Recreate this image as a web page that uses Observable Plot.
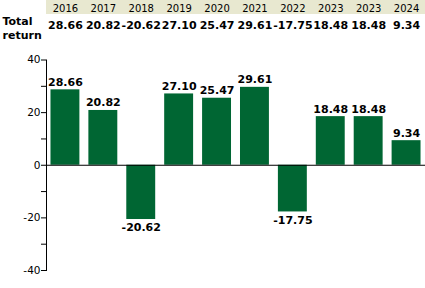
<!DOCTYPE html>
<html>
<head>
<meta charset="utf-8">
<script src="https://cdn.jsdelivr.net/npm/d3@7"></script>
<script src="https://cdn.jsdelivr.net/npm/@observablehq/plot@0.6"></script>
<style>
  html, body { margin: 0; padding: 0; background: #fff; }
  svg { display: block; }
</style>
</head>
<body>
<div id="chart"></div>
<script>
const years = ["2016", "2017", "2018", "2019", "2020", "2021", "2022", "2023", "2023", "2024"];
const totalReturn = [28.66, 20.82, -20.62, 27.10, 25.47, 29.61, -17.75, 18.48, 18.48, 9.34];
const majorTicks = [-40, -20, 0, 20, 40];
const minorTicks = [-30, -10, 10, 30];
const rowLabel = "Total\nreturn";

const data = years.map((y, i) => ({key: i, year: y, value: totalReturn[i]}));
const keys = data.map(d => d.key);
const fmt = v => v.toFixed(2);

const headerBg = (index, scales, values, dims) => {
  const r = document.createElementNS("http://www.w3.org/2000/svg", "rect");
  r.setAttribute("x", dims.marginLeft);
  r.setAttribute("y", 0);
  r.setAttribute("width", dims.width - dims.marginLeft - dims.marginRight);
  r.setAttribute("height", 14);
  r.setAttribute("fill", "#e8e8d0");
  return r;
};

const plot = Plot.plot({
  width: 425,
  height: 288,
  marginLeft: 46,
  marginRight: 0,
  marginTop: 59.5,
  marginBottom: 18,
  style: {fontFamily: "'DejaVu Sans', Verdana, sans-serif", background: "#fff"},
  x: {type: "band", domain: keys, paddingInner: 0.237, paddingOuter: 0.118, round: false, axis: null},
  y: {domain: [-40, 40], axis: null},
  marks: [
    headerBg,
    Plot.text(data, {x: "key", text: "year", frameAnchor: "top", lineAnchor: "bottom", dy: -48.5, fontSize: 10, fill: "#000"}),
    Plot.text(data, {x: "key", text: d => fmt(d.value), frameAnchor: "top", lineAnchor: "bottom", dy: -31, fontSize: 11, fontWeight: "bold", fill: "#000"}),
    Plot.text([rowLabel], {text: d => d, frameAnchor: "top-left", textAnchor: "start", lineAnchor: "top", dx: -44, dy: -44, fontSize: 11, fontWeight: "bold", lineHeight: 1.2, fill: "#000"}),
    Plot.barY(data, {x: "key", y: "value", fill: "#006633"}),
    Plot.text(data.filter(d => d.value >= 0), {x: "key", y: "value", text: d => fmt(d.value), lineAnchor: "bottom", dy: -4, fontSize: 11, fontWeight: "bold", fill: "#000"}),
    Plot.text(data.filter(d => d.value < 0), {x: "key", y: "value", text: d => fmt(d.value), lineAnchor: "top", dy: 4, fontSize: 11, fontWeight: "bold", fill: "#000"}),
    Plot.ruleY([0], {stroke: "#000"}),
    Plot.frame({anchor: "left", stroke: "#000"}),
    Plot.axisY({ticks: majorTicks, tickSize: 5, tickPadding: 1, fontSize: 10.5, tickFormat: d => String(d), stroke: "#000", fill: "#000", label: null}),
    Plot.axisY({ticks: minorTicks, tickSize: 5, tickFormat: () => "", stroke: "#000", label: null})
  ]
});
document.getElementById("chart").appendChild(plot);
</script>
</body>
</html>
